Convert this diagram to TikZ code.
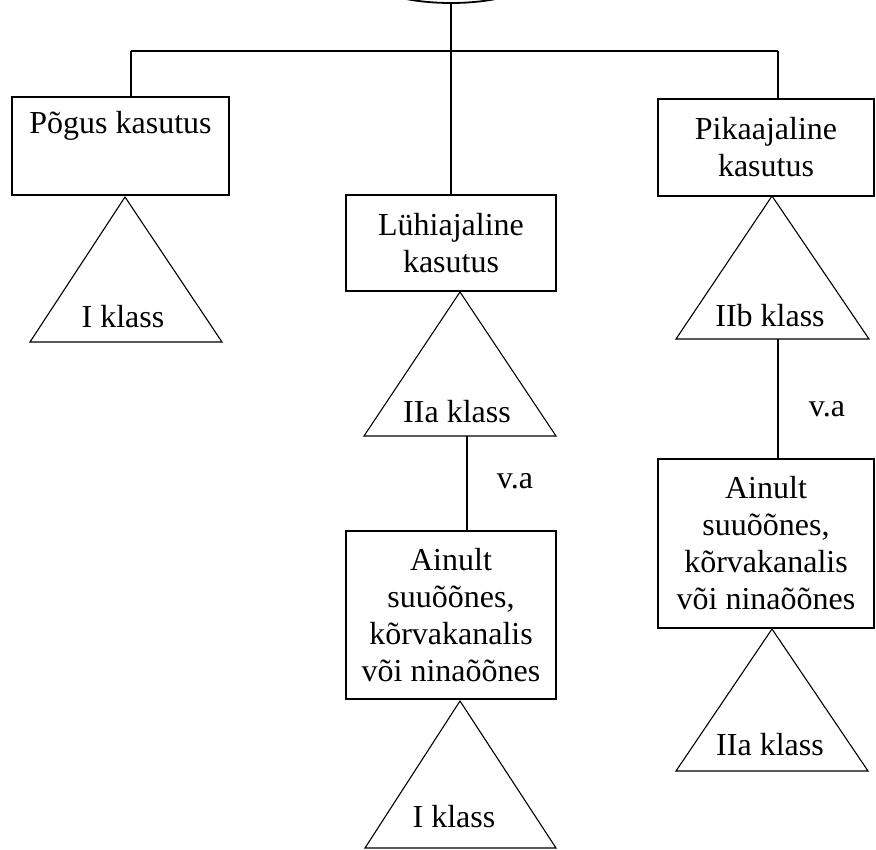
\documentclass[tikz,border=0pt]{standalone}
\usepackage{fontspec}
\setmainfont{Liberation Serif}
\usetikzlibrary{shapes.geometric}
\newcommand{\fsz}{\fontsize{32}{37}\selectfont}
\begin{document}
\begin{tikzpicture}[x=1pt,y=-1pt,
  box/.style={draw, line width=1.5pt, inner sep=0pt, align=center, font=\fsz},
  conn/.style={line width=2pt},
  tri/.style={draw, line width=1.1pt, line join=miter},
  lbl/.style={font=\fsz, inner sep=0pt, anchor=base}]
\useasboundingbox (0,0) rectangle (876,850);
\clip (0,0) rectangle (876,850);
\fill[white] (0,0) rectangle (876,850);
% top ellipse (cut off)
\node[draw, ellipse, line width=1.8pt, minimum width=174pt, minimum height=56pt, inner sep=0pt] (top) at (451,-25) {};
% boxes
\node[box, minimum width=217pt, minimum height=98pt] (pogus) at (120.5,146) {Põgus kasutus\\\strut};
\node[box, minimum width=210pt, minimum height=96pt] (luhi) at (451,243) {Lühiajaline\\kasutus};
\node[box, minimum width=216pt, minimum height=97pt] (pika) at (766,147.5) {Pikaajaline\\kasutus};
\node[box, minimum width=210pt, minimum height=168pt] (ainA) at (451,615) {Ainult\\suuõõnes,\\kõrvakanalis\\või ninaõõnes};
\node[box, minimum width=216pt, minimum height=169pt] (ainB) at (766,543.5) {Ainult\\suuõõnes,\\kõrvakanalis\\või ninaõõnes};
% tree connectors
\coordinate (j) at (451,51);
\coordinate (jl) at (131,51);
\coordinate (jr) at (778,51);
\draw[conn] (top.south) -- (j);
\draw[conn] (jl) -- (jr);
\draw[conn] (jl) -- (jl |- pogus.north);
\draw[conn] (j) -- (luhi.north);
\draw[conn] (jr) -- (jr |- pika.north);
% triangles
\draw[tri] (125,197) -- (222,342) -- (30,342) -- cycle;
\draw[tri] (460,292) -- (556,436) -- (364,436) -- cycle;
\draw[tri] (772,196) -- (869,339) -- (676,339) -- cycle;
\draw[tri] (460,701) -- (556,848) -- (365,848) -- cycle;
\draw[tri] (772,629) -- (868,771) -- (676,771) -- cycle;
\node[lbl] (t1) at (123,328) {I klass};
\node[lbl] (t2) at (457,422) {IIa klass};
\node[lbl] (t3) at (770,327) {IIb klass};
\node[lbl] (t4) at (454,827) {I klass};
\node[lbl] (t5) at (770,755) {IIa klass};
% connectors triangle -> box
\coordinate (b2) at (467,436);
\coordinate (b3) at (778,339);
\draw[conn] (b2) -- (b2 |- ainA.north);
\draw[conn] (b3) -- (b3 |- ainB.north);
\node[lbl] (va1) at (515,488) {v.a};
\node[lbl] (va2) at (827,417) {v.a};
\end{tikzpicture}
\end{document}
